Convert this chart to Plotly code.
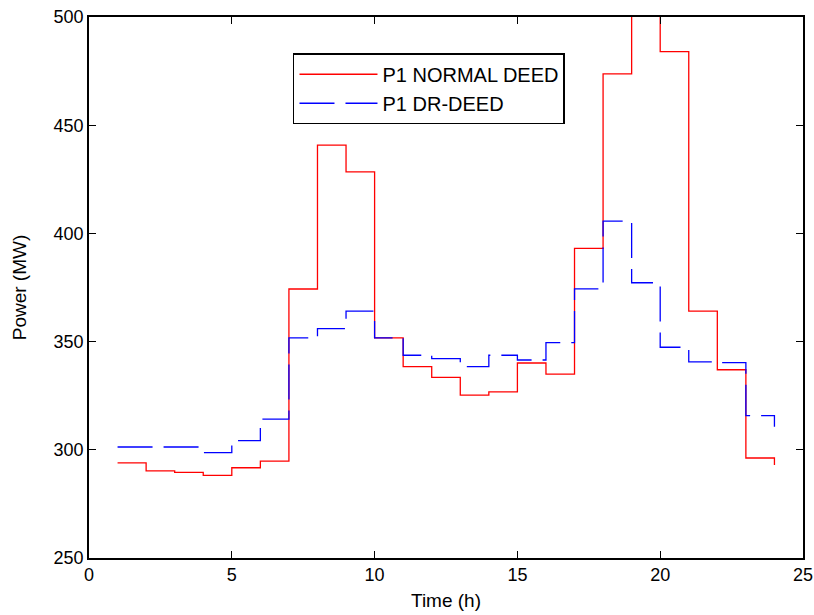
import plotly.graph_objects as go

hours = list(range(1, 25))
p1_normal = [294.0, 290.3, 289.6, 288.2, 291.7, 294.8, 374.3, 440.8, 428.4, 351.7,
             338.4, 333.5, 325.3, 326.8, 340.1, 335.0, 393.1, 473.7, 510.0, 484.0,
             364.1, 337.0, 296.2, 293.0]
p1_dr = [301.3, 301.3, 301.3, 298.7, 304.2, 314.2, 351.7, 356.0, 364.1, 351.7,
         343.7, 342.1, 338.4, 343.7, 341.5, 349.5, 374.4, 405.7, 377.2, 347.4,
         340.6, 340.3, 315.8, 310.7]
x_ticks = [0, 5, 10, 15, 20, 25]
y_ticks = [250, 300, 350, 400, 450, 500]

font = "Liberation Sans, Arial, Helvetica, sans-serif"

fig = go.Figure()
fig.add_trace(go.Scatter(x=hours, y=p1_normal, mode="lines", line_shape="hv",
                         name="P1 NORMAL DEED", line=dict(color="#ff0000", width=1.3)))
fig.add_trace(go.Scatter(x=hours, y=p1_dr, mode="lines", line_shape="hv",
                         name="P1 DR-DEED",
                         line=dict(color="#0000ff", width=1.3, dash="35px,11px")))

axis_common = dict(showline=True, linecolor="black", linewidth=1.5, mirror="ticks",
                   ticks="inside", ticklen=7, tickcolor="black", tickwidth=1,
                   showgrid=False, zeroline=False, automargin=False,
                   ticklabeloverflow="allow",
                   tickfont=dict(family=font, size=18, color="black"))

fig.update_layout(
    width=814, height=615,
    margin=dict(l=89, r=11, t=17, b=57, autoexpand=False),
    plot_bgcolor="white", paper_bgcolor="white",
    xaxis=dict(range=[0, 25], tickvals=x_ticks,
               title=dict(text="Time (h)", font=dict(family=font, size=19, color="black"),
                          standoff=9),
               **axis_common),
    yaxis=dict(range=[250, 500], tickvals=y_ticks,
               title=dict(text="Power (MW)", font=dict(family=font, size=19, color="black"),
                          standoff=22),
               **axis_common),
    legend=dict(x=0.2857, y=0.933, xanchor="left", yanchor="top",
                bordercolor="black", borderwidth=1.5, bgcolor="white",
                font=dict(family=font, size=20, color="black"),
                itemwidth=78, tracegroupgap=0),
    showlegend=True,
    hovermode=False,
)

fig.write_html("out.html",
               config={"displayModeBar": False, "staticPlot": False},
               post_script="document.body.style.margin='0';document.body.style.overflow='hidden';")
